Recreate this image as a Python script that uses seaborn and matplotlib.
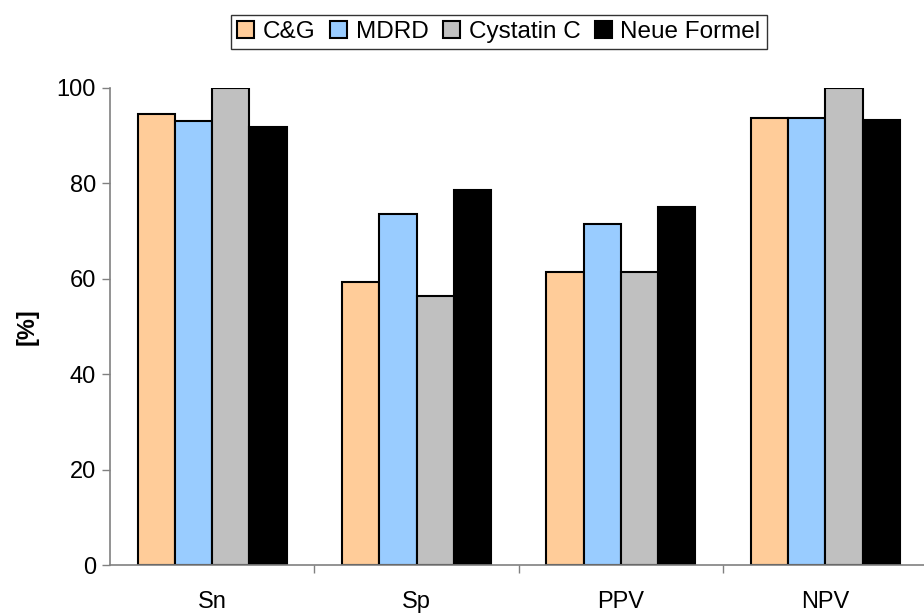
import matplotlib
matplotlib.use("Agg")
import matplotlib.pyplot as plt
import seaborn as sns
import pandas as pd
from matplotlib.ticker import FixedLocator

categories = ["Sn", "Sp", "PPV", "NPV"]
series = ["C&G", "MDRD", "Cystatin C", "Neue Formel"]
cg = [94.5, 59.3, 61.5, 93.8]
mdrd = [93.1, 73.5, 71.4, 93.8]
cystatin = [100.0, 56.3, 61.5, 100.0]
neue = [91.9, 78.7, 75.1, 93.3]
colors = ["#FFCC99", "#99CCFF", "#C0C0C0", "#000000"]
yticks = [0, 20, 40, 60, 80, 100]

rows = []
for name, vals in zip(series, [cg, mdrd, cystatin, neue]):
    for c, v in zip(categories, vals):
        rows.append({"cat": c, "series": name, "val": v})
df = pd.DataFrame(rows)

sns.set_theme(style="white")
plt.rcParams["font.family"] = ["Liberation Sans", "DejaVu Sans"]
plt.rcParams["text.color"] = "black"
plt.rcParams["axes.labelcolor"] = "black"
plt.rcParams["xtick.color"] = "black"
plt.rcParams["ytick.color"] = "black"

fig = plt.figure(figsize=(9.24, 6.14), dpi=100)
ax = fig.add_axes([0.119, 0.0798, 0.8848, 0.7769])

sns.barplot(data=df, x="cat", y="val", hue="series", order=categories,
            hue_order=series, palette=colors, width=0.729, dodge=True,
            edgecolor="black", linewidth=1.5, saturation=1, ax=ax, legend=True)

ax.set_xlim(-0.5, 3.5)
ax.set_ylim(0, 100)
ax.set_yticks(yticks)
ax.set_yticklabels([str(t) for t in yticks], fontsize=17)
ax.set_xticks(range(len(categories)))
ax.set_xticklabels(categories, fontsize=17)
ax.tick_params(axis="x", which="major", length=0, pad=19, labelcolor="black")
ax.xaxis.set_minor_locator(FixedLocator([0.5, 1.5, 2.5]))
ax.tick_params(axis="x", which="minor", length=6, direction="out", color="#808080", width=1, bottom=True)
ax.tick_params(axis="y", length=6, direction="out", color="#808080", width=1, left=True, pad=4, labelcolor="black")
ax.set_xlabel("")
ax.set_ylabel("[%]", fontsize=17, fontweight="bold", labelpad=13, color="black")

for s in ["top", "right"]:
    ax.spines[s].set_visible(False)
for s in ["left", "bottom"]:
    ax.spines[s].set_color("#808080")
    ax.spines[s].set_linewidth(1.2)

handles, labels = ax.get_legend_handles_labels()
leg = fig.legend(handles, labels, loc="upper center", bbox_to_anchor=(0.540, 0.976),
                 ncol=4, frameon=True, fancybox=False, edgecolor="black", fontsize=17.5,
                 handlelength=0.7, handleheight=0.7, handletextpad=0.35, columnspacing=0.6,
                 borderpad=0.25, borderaxespad=0.0)
leg.get_frame().set_linewidth(1.0)
for t in leg.get_texts():
    t.set_color("black")
if ax.get_legend():
    ax.get_legend().remove()

fig.savefig("out.png", dpi=100)
